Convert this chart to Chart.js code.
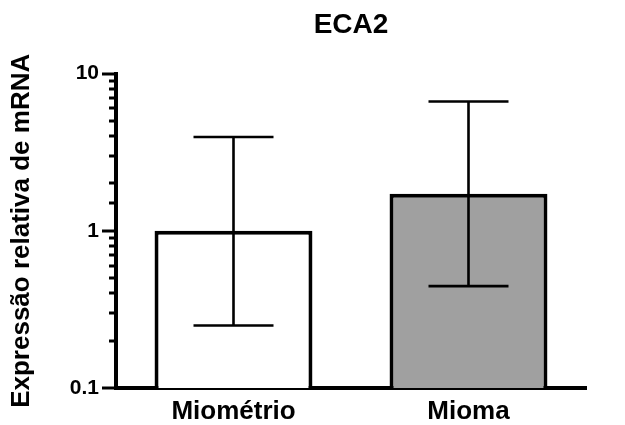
<!DOCTYPE html>
<html>
<head>
<meta charset="utf-8">
<script src="https://cdn.jsdelivr.net/npm/chart.js@4"></script>
<style>
  html, body { margin: 0; padding: 0; background: #ffffff; }
  #wrap { width: 625px; height: 425px; }
</style>
</head>
<body>
<div id="wrap"><canvas id="c" width="625" height="425"></canvas></div>
<script>
const categories = ['Miométrio', 'Mioma'];
const means = [1.0, 1.72];
const errLow = [0.25, 0.445];
const errHigh = [3.95, 6.65];
const barColors = ['#ffffff', '#a0a0a0'];
const yMin = 0.1;
const yMax = 10;
const chartTitle = 'ECA2';
const yTitle = 'Expressão relativa de mRNA';

const FONT = "'Liberation Sans', Arial, Helvetica, sans-serif";

function isDecade(v) {
  const l = Math.log10(v);
  return Math.abs(l - Math.round(l)) < 1e-6;
}

const errorBarPlugin = {
  id: 'errorBars',
  afterDatasetsDraw(chart) {
    const ctx = chart.ctx;
    const y = chart.scales.y;
    const meta = chart.getDatasetMeta(0);
    ctx.save();
    ctx.strokeStyle = '#000000';
    ctx.lineWidth = 2.6;
    ctx.lineCap = 'butt';
    meta.data.forEach((bar, i) => {
      const x = bar.x;
      const yh = y.getPixelForValue(errHigh[i]);
      const yl = y.getPixelForValue(errLow[i]);
      const cap = 40;
      ctx.beginPath();
      ctx.moveTo(x, yh); ctx.lineTo(x, yl);
      ctx.moveTo(x - cap, yh); ctx.lineTo(x + cap, yh);
      ctx.moveTo(x - cap, yl); ctx.lineTo(x + cap, yl);
      ctx.stroke();
    });
    ctx.restore();
  }
};

const tickPlugin = {
  id: 'logTicks',
  afterDraw(chart) {
    const ctx = chart.ctx;
    const y = chart.scales.y;
    const left = chart.chartArea.left;
    ctx.save();
    ctx.strokeStyle = '#000000';
    ctx.lineWidth = 3;
    y.ticks.forEach(t => {
      const p = Math.round(y.getPixelForValue(t.value));
      const len = isDecade(t.value) ? 14 : 7;
      ctx.beginPath();
      ctx.moveTo(left - len, p);
      ctx.lineTo(left, p);
      ctx.stroke();
    });
    ctx.restore();
  }
};

new Chart(document.getElementById('c'), {
  type: 'bar',
  data: {
    labels: categories,
    datasets: [{
      data: means,
      backgroundColor: barColors,
      borderColor: '#000000',
      borderWidth: 4,
      borderSkipped: 'bottom',
      categoryPercentage: 1.0,
      barPercentage: 0.672
    }]
  },
  options: {
    responsive: false,
    animation: false,
    devicePixelRatio: 1,
    layout: { padding: { left: 0, right: 39, top: 0, bottom: 0 } },
    plugins: {
      legend: { display: false },
      tooltip: { enabled: false },
      title: {
        display: true,
        text: chartTitle,
        fullSize: false,
        color: '#000000',
        font: { family: FONT, size: 28, weight: 'bold' },
        padding: { top: 8, bottom: 32 }
      }
    },
    scales: {
      x: {
        grid: { display: false, drawTicks: false },
        border: { display: true, color: '#000000', width: 4 },
        ticks: {
          color: '#000000',
          padding: 8,
          font: { family: FONT, size: 26, weight: 'bold' }
        },
        afterFit(scale) { scale.height = 37; }
      },
      y: {
        type: 'logarithmic',
        min: yMin,
        max: yMax,
        grid: { display: false, drawTicks: false },
        border: { display: true, color: '#000000', width: 4 },
        title: {
          display: true,
          text: yTitle,
          color: '#000000',
          font: { family: FONT, size: 26, weight: 'bold' },
          padding: { top: 6, bottom: 0 }
        },
        ticks: {
          autoSkip: false,
          color: '#000000',
          padding: 17,
          font: { family: FONT, size: 21, weight: 'bold' },
          callback: (v) => isDecade(v) ? String(Number(v)) : ''
        },
        afterFit(scale) { scale.width = 116; }
      }
    }
  },
  plugins: [errorBarPlugin, tickPlugin]
});
</script>
</body>
</html>
